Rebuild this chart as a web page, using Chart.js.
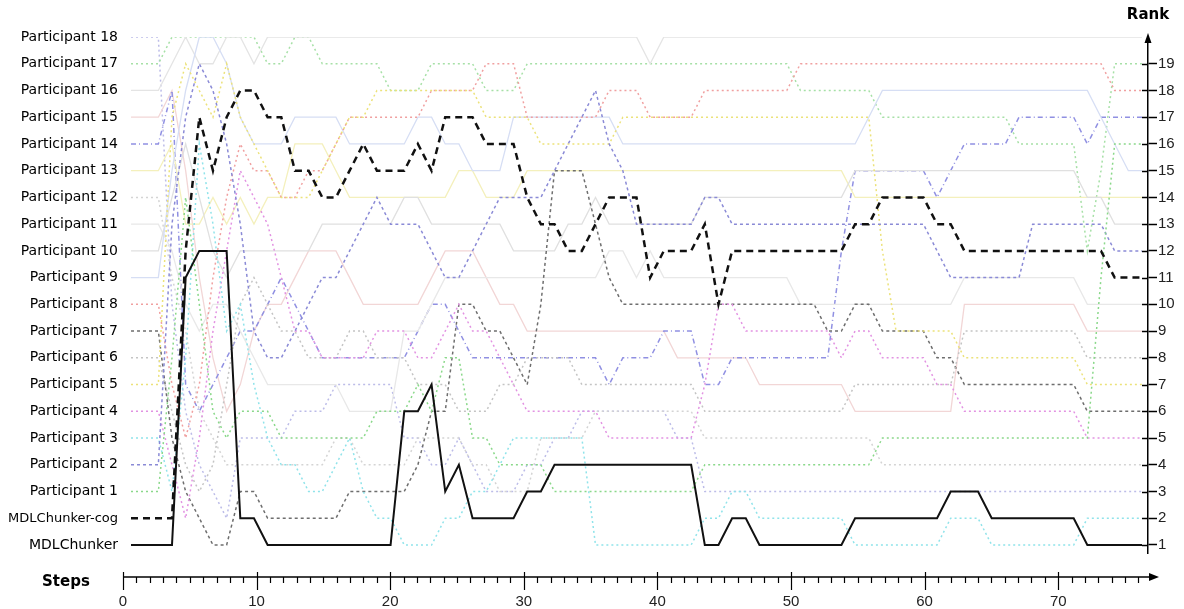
<!DOCTYPE html>
<html><head><meta charset="utf-8">
<script src="https://cdn.jsdelivr.net/npm/chart.js@4.4.0/dist/chart.umd.min.js"></script>
<style>html,body{margin:0;padding:0;background:#fff;overflow:hidden}#wrap{width:1184px;height:609px}</style>
</head><body><div id="wrap"><canvas id="c" width="1184" height="609"></canvas></div>
<script>
// ---- data ----
const steps = [1,2,3,4,5,6,7,8,9,10,11,12,13,14,15,16,17,18,19,20,21,22,23,24,25,26,27,28,29,30,31,32,33,34,35,36,37,38,39,40,41,42,43,44,45,46,47,48,49,50,51,52,53,54,55,56,57,58,59,60,61,62,63,64,65,66,67,68,69,70,71,72,73,74,75];
const stepTicks = [0,10,20,30,40,50,60,70];
const rankTicks = [1,2,3,4,5,6,7,8,9,10,11,12,13,14,15,16,17,18,19];
const labelRanks = [1,2,3,4,5,6,7,8,9,10,11,12,13,14,15,16,17,18,19,20];
const seriesNames = ['MDLChunker','MDLChunker-cog','Participant 1','Participant 2','Participant 3','Participant 4','Participant 5','Participant 6','Participant 7','Participant 8','Participant 9','Participant 10','Participant 11','Participant 12','Participant 13','Participant 14','Participant 15','Participant 16','Participant 17','Participant 18'];

const mdl = [1,1,1,1,11, 12,12,12,2,2, 1,1,1,1,1, 1,1,1,1,1, 6,6,7,3,4, 2,2,2,2,3, 3,4,4,4,4, 4,4,4,4,4, 4,4,1,1,2, 2,1,1,1,1, 1,1,1,2,2, 2,2,2,2,2, 3,3,3,2,2, 2,2,2,2,2, 1,1,1,1,1];
const mdlCog = [2,2,2,2,12, 17,15,17,18,18, 17,17,15,15,14, 14,15,16,15,15, 15,16,15,17,17, 17,16,16,16,14, 13,13,12,12,13, 14,14,14,11,12, 12,12,13,10,12, 12,12,12,12,12, 12,12,12,13,13, 14,14,14,14,13, 13,12,12,12,12, 12,12,12,12,12, 12,12,11,11,11];
const p1 = [3,3,3,8,14, 10,6,5,6,6, 6,5,5,5,5, 5,5,5,6,6, 6,7,6,8,8, 5,5,4,4,4, 4,3,3,3,3, 3,3,3,3,3, 3,3,4,4,4, 4,4,4,4,4, 4,4,4,4,4, 5,5,5,5,5, 5,5,5,5,5, 5,5,5,5,5, 5,11,16,16,16];
const p2 = [4,4,4,13,17, 19,18,16,13,9, 8,8,9,10,11, 11,12,13,14,13, 13,13,12,11,11, 12,13,14,14,14, 14,15,16,17,18, 16,15,13,13,13, 13,13,14,14,13, 13,13,13,13,13, 13,13,13,13,13, 13,13,13,13,12, 11,11,11,11,11, 11,13,13,13,13, 13,13,12,12,12];
const p3 = [5,5,5,3,8, 16,13,9,10,7, 5,4,4,3,3, 4,5,3,2,2, 1,1,1,2,2, 3,3,4,5,5, 5,5,5,5,1, 1,1,1,1,1, 1,1,2,2,3, 3,2,2,2,2, 2,2,2,1,1, 1,1,1,1,1, 2,2,2,1,1, 1,1,1,1,1, 2,2,2,2,2];
const p4 = [6,6,6,4,2, 5,9,12,15,14, 13,11,9,9,8, 8,8,8,9,9, 9,8,8,9,10, 9,9,8,7,6, 6,6,6,6,6, 5,5,5,5,5, 5,5,7,10,10, 9,9,9,9,9, 9,9,8,9,9, 8,8,8,8,7, 7,6,6,6,6, 6,6,6,6,6, 5,5,5,5,5];
const p5 = [7,7,7,17,19, 18,17,19,17,16, 15,14,14,14,15, 16,17,17,18,18, 18,18,18,18,18, 18,17,17,17,17, 16,16,16,16,16, 16,17,17,17,17, 17,17,17,17,17, 17,17,17,17,17, 17,17,17,17,17, 12,9,9,9,9, 9,8,8,8,8, 8,8,8,8,8, 7,7,7,7,7];
const p6 = [8,8,8,6,4, 3,4,7,10,11, 10,9,9,8,8, 8,9,9,8,8, 8,7,7,7,6, 6,6,7,7,8, 8,8,8,7,7, 7,7,7,7,7, 7,7,6,6,6, 6,6,6,6,6, 6,6,6,7,7, 7,7,7,7,7, 7,9,9,9,9, 9,9,9,9,9, 8,8,8,8,8];
const p7 = [9,9,9,5,3, 2,1,1,3,3, 2,2,2,2,2, 2,3,3,3,3, 3,4,6,6,10, 10,9,9,8,7, 10,15,15,15,13, 11,10,10,10,10, 10,10,10,10,10, 10,10,10,10,10, 10,9,9,10,10, 9,9,9,9,8, 8,7,7,7,7, 7,7,7,7,7, 6,6,6,6,6];
const p8 = [10,10,10,7,5, 7,11,14,16,15, 15,14,14,15,15, 16,17,17,17,17, 17,17,18,18,18, 18,19,19,19,17, 17,17,17,17,17, 18,18,18,17,17, 17,17,18,18,18, 18,18,18,18,19, 19,19,19,19,19, 19,19,19,19,19, 19,19,19,19,19, 19,19,19,19,19, 19,19,18,18,18];
const p9 = [11,11,11,15,18, 20,20,19,17,16, 16,16,17,17,17, 17,16,16,16,16, 16,17,17,16,16, 15,15,15,17,17, 17,17,17,17,17, 17,16,16,16,16, 16,16,16,16,16, 16,16,16,16,16, 16,16,16,16,17, 18,18,18,18,18, 18,18,18,18,18, 18,18,18,18,18, 18,17,16,15,15];
const p10 = [12,12,12,14,16, 14,12,11,12,12, 12,12,12,12,13, 13,13,13,13,13, 14,14,13,13,13, 13,13,13,12,12, 12,12,13,13,14, 13,13,13,13,13, 13,13,14,14,14, 14,14,14,14,14, 14,14,14,15,15, 15,15,15,15,15, 15,15,15,15,15, 15,15,15,15,15, 14,14,13,13,13];
const p11 = [13,13,13,12,10, 9,10,10,9,8, 7,7,7,7,7, 7,6,6,6,6, 9,9,10,11,11, 11,11,11,11,11, 11,11,11,11,11, 12,12,11,12,11, 11,11,11,11,11, 11,11,11,11,10, 10,10,10,10,10, 10,10,10,10,10, 10,11,11,11,11, 11,11,11,11,11, 10,10,10,10,10];
const p12 = [14,14,14,11,9, 6,5,4,4,4, 4,4,4,4,4, 5,5,4,4,4, 4,5,5,5,5, 4,4,3,3,3, 5,5,5,5,6, 6,6,6,6,6, 6,6,5,5,5, 5,5,5,5,5, 5,5,5,5,5, 4,4,4,4,4, 4,4,4,4,4, 4,4,4,4,4, 4,4,4,4,4];
const p13 = [15,15,15,16,13, 13,14,13,14,13, 14,14,16,16,16, 15,14,14,14,14, 14,14,14,14,15, 15,14,14,14,15, 15,15,15,15,15, 15,15,15,15,15, 15,15,15,15,15, 15,15,15,15,15, 15,15,15,14,14, 14,14,14,14,14, 14,14,14,14,14, 14,14,14,14,14, 14,14,14,14,14];
const p14 = [16,16,16,18,7, 6,7,8,9,9, 10,11,10,9,8, 8,8,8,8,8, 8,9,10,10,9, 8,8,8,8,8, 8,8,8,8,8, 7,8,8,8,9, 9,9,7,7,8, 8,8,8,8,8, 8,8,12,15,15, 15,15,15,15,14, 15,16,16,16,16, 17,17,17,17,17, 16,17,17,17,17];
const p15 = [17,17,17,18,15, 11,8,6,7,9, 10,10,11,12,12, 12,11,10,10,10, 10,10,11,12,12, 12,11,10,10,9, 9,9,9,9,9, 9,9,9,9,9, 8,8,8,8,8, 8,7,7,7,7, 7,7,7,6,6, 6,6,6,6,6, 6,10,10,10,10, 10,10,10,10,10, 9,9,9,9,9];
const p16 = [18,18,18,19,20, 19,19,20,20,19, 20,20,20,20,20, 20,20,20,20,20, 20,20,20,20,20, 20,20,20,20,20, 20,20,20,20,20, 20,20,20,19,20, 20,20,20,20,20, 20,20,20,20,20, 20,20,20,20,20, 20,20,20,20,20, 20,20,20,20,20, 20,20,20,20,20, 20,20,20,20,20];
const p17 = [19,19,19,20,20, 20,20,20,20,20, 19,19,20,20,19, 19,19,19,19,18, 18,18,19,19,19, 19,18,18,18,19, 19,19,19,19,19, 19,19,19,19,19, 19,19,19,19,19, 19,19,19,19,18, 18,18,18,18,18, 17,17,17,17,17, 17,17,17,17,17, 16,16,16,16,16, 12,15,19,19,19];
const p18 = [20,20,20,10,6, 4,3,2,5,5, 5,5,6,6,6, 7,7,7,7,7, 5,5,4,4,5, 4,3,3,3,4, 4,5,5,6,6, 6,6,6,6,6, 5,5,3,3,3, 3,3,3,3,3, 3,3,3,3,3, 3,3,3,3,3, 3,3,3,3,3, 3,3,3,3,3, 3,3,3,3,3];

const seriesValues = [mdl, mdlCog, p1, p2, p3, p4, p5, p6, p7, p8, p9, p10, p11, p12, p13, p14, p15, p16, p17, p18];

// ---- styles ----
const seriesColors = ['#111111','#111111','#8ad88a','#8a8ad6','#8fe3ea','#e292e2','#ece27a','#c4c4c4','#6e6e6e','#f0a0a0','#d6def4','#e0e0e0','#e8e8e8','#d4d4d4','#f4f0bc','#9090e2','#f2d6d6','#e4e4e4','#a6e0a6','#bcbce8'];
const seriesDash = [[],[7,5],[2,3],[3,3],[2,3],[2,3],[2,3],[2,3],[3,3],[2,3],[],[],[],[2,3],[],[5,3,1,3],[],[],[2,3],[2,3]];
const seriesWidth = [2,2.5,1.5,1.5,1.5,1.5,1.5,1.5,1.5,1.5,1.3,1.3,1.3,1.5,1.3,1.5,1.3,1.3,1.5,1.5];

const datasets = seriesValues.map((vals, i) => ({
  label: seriesNames[i],
  data: steps.map((s, j) => ({x: s, y: vals[j]})),
  borderColor: seriesColors[i],
  borderDash: seriesDash[i],
  borderWidth: seriesWidth[i],
  pointRadius: 0,
  tension: 0,
  fill: false,
  xAxisID: 'x',
  yAxisID: 'y',
  order: i
}));

function nameForRank(r) {
  const k = seriesValues.findIndex(v => v[0] === r);
  return k >= 0 ? seriesNames[k] : '';
}

const axisDecor = {
  id: 'axisDecor',
  afterDraw(chart) {
    const ctx = chart.ctx;
    const xa = chart.scales.xa, y = chart.scales.y;
    const axisY = 577, tipX = 1159;
    ctx.save();
    ctx.strokeStyle = '#000'; ctx.fillStyle = '#000'; ctx.lineWidth = 1.5;
    ctx.beginPath(); ctx.moveTo(xa.getPixelForValue(0), axisY); ctx.lineTo(tipX - 6, axisY); ctx.stroke();
    ctx.beginPath(); ctx.moveTo(tipX, axisY); ctx.lineTo(tipX - 10, axisY - 4); ctx.lineTo(tipX - 10, axisY + 4); ctx.closePath(); ctx.fill();
    ctx.lineWidth = 1.2;
    for (let v = 0; v <= 76; v++) {
      const px = Math.round(xa.getPixelForValue(v)) + 0.5;
      ctx.beginPath();
      if (v % 10 === 0) { ctx.moveTo(px, axisY - 5); ctx.lineTo(px, axisY + 13); }
      else { ctx.moveTo(px, axisY); ctx.lineTo(px, axisY + 6); }
      ctx.stroke();
    }
    ctx.lineWidth = 1.5;
    const ax = y.left;
    rankTicks.forEach(r => {
      const py = Math.round(y.getPixelForValue(r)) + 0.5;
      ctx.beginPath(); ctx.moveTo(ax - 6, py); ctx.lineTo(ax, py); ctx.stroke();
    });
    const topY = chart.chartArea.top;
    ctx.beginPath(); ctx.moveTo(ax, topY - 4); ctx.lineTo(ax - 3.5, topY + 6); ctx.lineTo(ax + 3.5, topY + 6); ctx.closePath(); ctx.fill();
    ctx.font = 'bold 15px "DejaVu Sans"';
    ctx.textBaseline = 'middle';
    ctx.textAlign = 'center';
    ctx.fillText('Rank', ax, 15);
    ctx.textAlign = 'left';
    ctx.fillText('Steps', 42, 582);
    ctx.restore();
  }
};

new Chart(document.getElementById('c'), {
  type: 'line',
  data: { datasets },
  options: {
    responsive: false,
    animation: false,
    layout: { padding: { top: 37, left: 0, right: 0, bottom: 0 } },
    plugins: { legend: { display: false }, tooltip: { enabled: false } },
    scales: {
      x: { type: 'linear', display: false, min: 0.414, max: 75.44 },
      xa: {
        type: 'linear', position: 'bottom', min: 0, max: 76.72,
        grid: { display: false, drawTicks: false, tickLength: 0 }, border: { display: false },
        afterBuildTicks: s => { s.ticks = stepTicks.map(v => ({ value: v })); },
        afterFit: s => { s.height = 56; },
        ticks: { padding: 40, color: '#222', font: { family: 'Liberation Sans', size: 15 }, maxRotation: 0, autoSkip: false }
      },
      y: {
        type: 'linear', position: 'right', min: 0.7, max: 20,
        grid: { drawOnChartArea: false, drawTicks: true, tickLength: 9, color: '#000', tickWidth: 1.5 },
        border: { display: true, color: '#000', width: 1.5 },
        afterBuildTicks: s => { s.ticks = rankTicks.map(v => ({ value: v })); },
        afterFit: s => { s.width = 36; },
        ticks: { padding: 1, color: '#222', font: { family: 'Liberation Sans', size: 15 }, autoSkip: false }
      },
      yl: {
        type: 'linear', position: 'left', min: 0.7, max: 20,
        grid: { display: false, drawTicks: false, tickLength: 0 }, border: { display: false },
        afterBuildTicks: s => { s.ticks = labelRanks.map(v => ({ value: v })); },
        afterFit: s => { s.width = 123; },
        ticks: {
          padding: 5, color: '#000', autoSkip: false,
          callback: v => nameForRank(v),
          font: c => ({ family: 'DejaVu Sans', size: (c.tick && c.tick.value === 2) ? 13 : 14 })
        }
      }
    }
  },
  plugins: [axisDecor]
});
</script>
</body></html>
